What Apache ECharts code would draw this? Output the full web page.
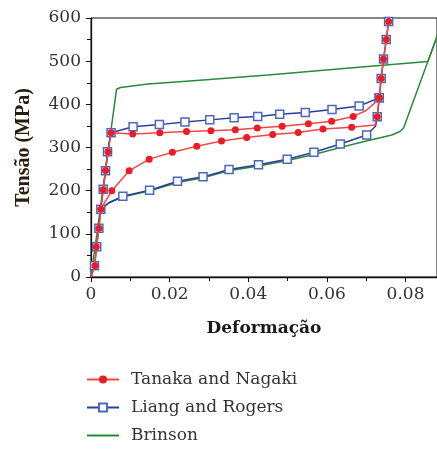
<!DOCTYPE html>
<html>
<head>
<meta charset="utf-8">
<script src="https://cdn.jsdelivr.net/npm/echarts@6/dist/echarts.min.js"></script>
<style>
  html, body { margin: 0; padding: 0; background: #fff; }
  #main { width: 437px; height: 449px; }
</style>
</head>
<body>
<div id="main"></div>
<script>
var chartDom = document.getElementById('main');
var myChart = echarts.init(chartDom);
var option;

var seriesNames = ['Tanaka and Nagaki', 'Liang and Rogers', 'Brinson'];
var xTicks = [0, 0.02, 0.04, 0.06, 0.08];
var yTicks = [0, 100, 200, 300, 400, 500, 600];

// Tanaka and Nagaki: loading, upper plateau, final stiff branch
var tanakaUpper = [
  [0.001, 26], [0.00135, 70], [0.002, 113], [0.0025, 157], [0.0031, 202],
  [0.0037, 247], [0.0043, 290], [0.0051, 334], [0.0106, 331], [0.0175, 334],
  [0.0243, 337], [0.0305, 339], [0.0367, 341], [0.0423, 345], [0.0486, 349],
  [0.0553, 355], [0.0612, 361], [0.0667, 372],
  [0.0733, 415], [0.0738, 460], [0.0744, 505], [0.0751, 550], [0.0757, 592]
];
var tanakaUpperBends = [[0, 0], [0.0699, 385], [0.0719, 401]];
// Tanaka and Nagaki: lower branch
var tanakaLower = [
  [0.0053, 200], [0.0097, 246], [0.0148, 273], [0.0207, 289], [0.0269, 303],
  [0.0332, 315], [0.0396, 323], [0.0462, 330], [0.0527, 335], [0.059, 343],
  [0.0663, 347], [0.0728, 371], [0.0733, 415]
];
var tanakaLowerBends = [[0.0025, 157], [0.0722, 352]];

// Liang and Rogers
var liangUpper = [
  [0.00088, 26], [0.00145, 70], [0.002, 113], [0.0025, 157], [0.0031, 203],
  [0.0037, 246], [0.0042, 290], [0.0051, 334], [0.0107, 348], [0.0174, 353],
  [0.0239, 359], [0.0302, 364], [0.0364, 369], [0.0424, 372], [0.048, 377],
  [0.0545, 381], [0.0613, 388], [0.0682, 396],
  [0.0733, 415], [0.0738, 460], [0.0744, 505], [0.0751, 550], [0.0757, 592]
];
var liangUpperBends = [[0, 0], [0.0759, 600]];
var liangLower = [
  [0.0081, 187], [0.0149, 201], [0.022, 222], [0.0285, 232], [0.0351, 249],
  [0.0426, 260], [0.0499, 273], [0.0567, 289], [0.0634, 308], [0.0701, 329],
  [0.0728, 371], [0.0733, 415]
];
var liangLowerBends = [[0.0025, 157], [0.0045, 172], [0.0724, 350]];

// Brinson
var brinsonUpper = [
  [0, 0], [0.0065, 435], [0.0075, 439], [0.0145, 447], [0.0277, 456],
  [0.045, 468], [0.0658, 484], [0.0857, 499], [0.0897, 600]
];
var brinsonLower = [
  [0.0025, 157], [0.0045, 171], [0.008, 185], [0.015, 200], [0.022, 219],
  [0.0285, 230], [0.035, 246], [0.0426, 257], [0.05, 270], [0.0567, 284],
  [0.0634, 300], [0.07, 315], [0.0765, 329], [0.0786, 337], [0.0795, 345],
  [0.0897, 600]
];

function path(marks, bends) {
  return marks.map(function (p) { return { value: p }; })
    .concat(bends.map(function (p) { return { value: p, symbol: 'none' }; }))
    .sort(function (a, b) { return a.value[0] - b.value[0]; });
}

var serifLabel = { fontFamily: 'DejaVu Serif', fontSize: 17, color: '#333' };

var red = {
  type: 'line',
  name: seriesNames[0],
  symbol: 'circle',
  symbolSize: 7,
  itemStyle: { color: '#ec1c24' },
  lineStyle: { color: '#f04848', width: 1.5 },
  z: 4
};
var blue = {
  type: 'line',
  name: seriesNames[1],
  symbol: 'rect',
  symbolSize: 8,
  itemStyle: { color: '#fff', borderColor: '#4a68c0', borderWidth: 1.5 },
  lineStyle: { color: '#2a3e9e', width: 1.5 },
  z: 3
};
var green = {
  type: 'line',
  name: seriesNames[2],
  symbol: 'none',
  itemStyle: { color: '#2a8a3c' },
  lineStyle: { color: '#2a8a3c', width: 1.5 },
  z: 2
};

option = {
  animation: false,
  grid: {
    left: 91,
    top: 18,
    width: 347,
    height: 259,
    show: true,
    borderColor: '#111',
    borderWidth: 1
  },
  legend: {
    data: [
      seriesNames[0],
      seriesNames[1],
      { name: seriesNames[2], itemStyle: { opacity: 0 } }
    ],
    orient: 'vertical',
    left: 81,
    top: 366,
    height: 80,
    itemWidth: 32,
    itemHeight: 10,
    itemGap: 11,
    textStyle: { fontFamily: 'DejaVu Serif', fontSize: 17, color: '#333', padding: [0, 0, 0, 7] }
  },
  xAxis: {
    type: 'value',
    min: xTicks[0],
    max: 0.088,
    interval: xTicks[1] - xTicks[0],
    name: 'Deformação',
    nameLocation: 'middle',
    nameGap: 43,
    nameTextStyle: { fontFamily: 'DejaVu Serif', fontWeight: 'bold', fontSize: 17, color: '#1a1a1a' },
    axisLine: { lineStyle: { color: '#111', width: 1.3 } },
    axisTick: { inside: false, length: 5, lineStyle: { color: '#111' } },
    minorTick: { show: true, splitNumber: 2, length: 4, lineStyle: { color: '#111' } },
    splitLine: { show: false },
    axisLabel: Object.assign({ margin: 9, showMaxLabel: false }, serifLabel)
  },
  yAxis: {
    type: 'value',
    min: yTicks[0],
    max: yTicks[yTicks.length - 1],
    interval: yTicks[1] - yTicks[0],
    name: 'Tensão (MPa)',
    nameLocation: 'middle',
    nameGap: 57,
    nameTextStyle: { fontFamily: 'Liberation Serif', fontWeight: 'bold', fontSize: 20, color: '#2a1c0c' },
    axisLine: { show: true, lineStyle: { color: '#111', width: 1.3 } },
    axisTick: { show: true, inside: false, length: 5, lineStyle: { color: '#111' } },
    minorTick: { show: true, splitNumber: 2, length: 4, lineStyle: { color: '#111' } },
    splitLine: { show: false },
    axisLabel: Object.assign({ margin: 10 }, serifLabel)
  },
  series: [
    Object.assign({}, green, { data: brinsonUpper }),
    Object.assign({}, green, { data: brinsonLower }),
    Object.assign({}, blue, { data: path(liangUpper, liangUpperBends) }),
    Object.assign({}, blue, { data: path(liangLower, liangLowerBends) }),
    Object.assign({}, red, { data: path(tanakaUpper, tanakaUpperBends) }),
    Object.assign({}, red, { data: path(tanakaLower, tanakaLowerBends) })
  ]
};

option && myChart.setOption(option);
</script>
</body>
</html>
